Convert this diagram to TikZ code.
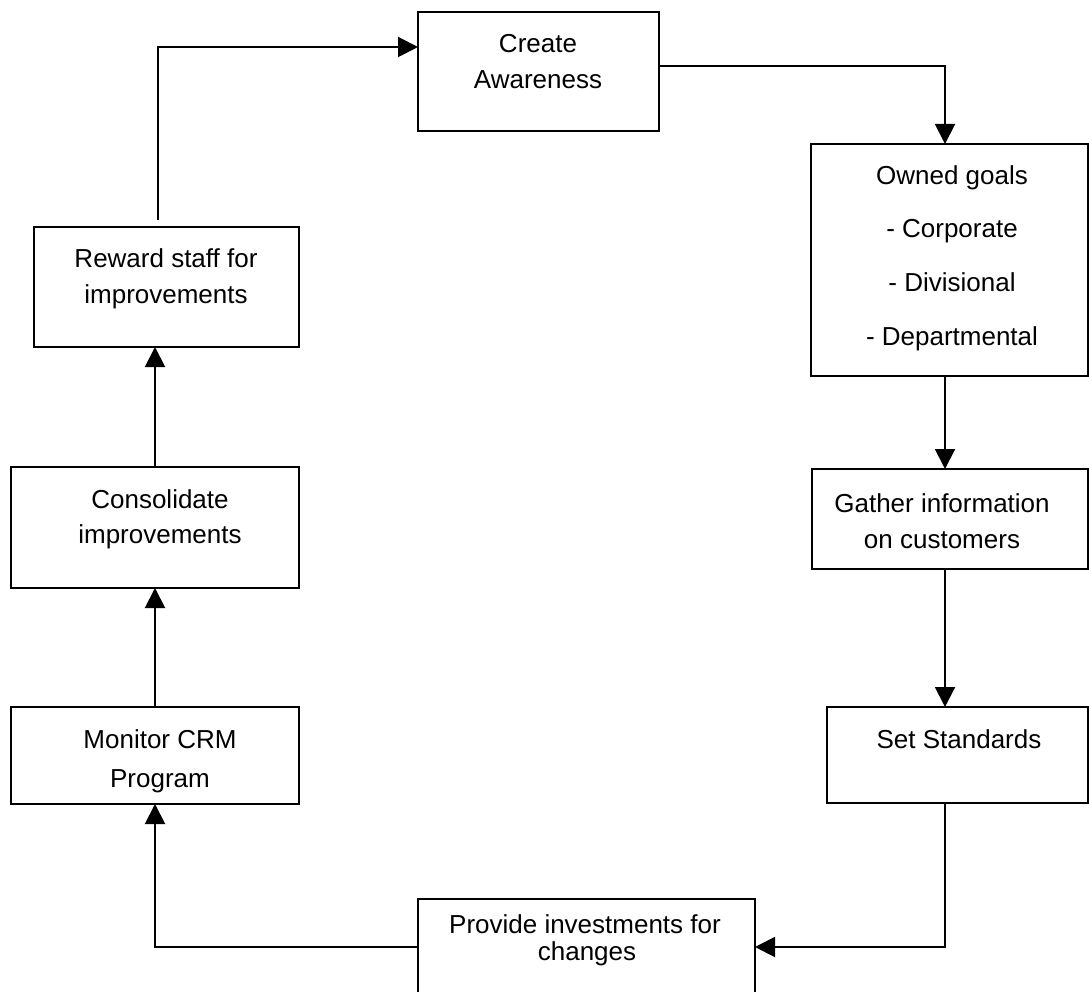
\documentclass[tikz,border=0pt]{standalone}
\usepackage{fontspec}
\setmainfont{Liberation Sans}
\usetikzlibrary{arrows.meta,calc}

\begin{document}
\begin{tikzpicture}[x=1pt,y=-1pt,
  box/.style={draw=black,line width=2pt,rectangle,inner sep=0pt,outer sep=0pt},
  ln/.style={anchor=base,inner sep=0pt,font=\fontsize{26}{30}\selectfont},
  arr/.style={line width=2pt,-{Triangle[width=20pt,length=20pt]}},
  plain/.style={line width=2pt}]

% page frame
\useasboundingbox (0,0) rectangle (1089,992);

% helper columns and points
\coordinate (colR) at (945,0);
\coordinate (colL) at (155,0);
\coordinate (rsTop) at (158,220);

% boxes
\node[box,minimum width=241pt,minimum height=119pt] (ca) at (538.5,71.5) {};
\node[box,minimum width=277pt,minimum height=232pt] (og) at (949.5,260) {};
\node[box,minimum width=276pt,minimum height=100pt] (gi) at (950,519) {};
\node[box,minimum width=261pt,minimum height=96pt]  (ss) at (957.5,755) {};
\node[box,minimum width=337pt,minimum height=96pt]  (pi) at (586.5,947) {};
\node[box,minimum width=288pt,minimum height=97pt]  (mc) at (155,755.5) {};
\node[box,minimum width=288pt,minimum height=121pt] (ci) at (155,527.5) {};
\node[box,minimum width=265pt,minimum height=120pt] (rs) at (166.5,287) {};

% box texts
\node[ln] (ca1) at (538,53) {Create};
\node[ln] (ca2) at (538,89) {Awareness};
\node[ln] (og1) at (952,185) {Owned goals};
\node[ln] (og2) at (952,238) {- Corporate};
\node[ln] (og3) at (952,291) {- Divisional};
\node[ln] (og4) at (952,345) {- Departmental};
\node[ln] (gi1) at (942,512) {Gather information};
\node[ln] (gi2) at (942,548) {on customers};
\node[ln] (ss1) at (959,748) {Set Standards};
\node[ln] (pi1) at (585,933) {Provide investments for};
\node[ln] (pi2) at (587,960) {changes};
\node[ln] (mc1) at (160,748) {Monitor CRM};
\node[ln] (mc2) at (160,787) {Program};
\node[ln] (ci1) at (160,508) {Consolidate};
\node[ln] (ci2) at (160,543) {improvements};
\node[ln] (rs1) at (166,268) {Reward staff for};
\node[ln] (rs2) at (166,303) {improvements};

% connectors
\draw[arr] ([yshift=5.5pt]ca.east) -| (og.north -| colR);
\draw[arr] (og.south -| colR) -- (gi.north -| colR);
\draw[arr] (gi.south -| colR) -- (ss.north -| colR);
\draw[arr] (ss.south -| colR) |- (pi.east);
\draw[arr] (pi.west) -| (mc.south -| colL);
\draw[arr] (mc.north -| colL) -- (ci.south -| colL);
\draw[arr] (ci.north -| colL) -- (rs.south -| colL);
\draw[arr] (rsTop) |- ([yshift=24.5pt]ca.west);
\end{tikzpicture}
\end{document}
